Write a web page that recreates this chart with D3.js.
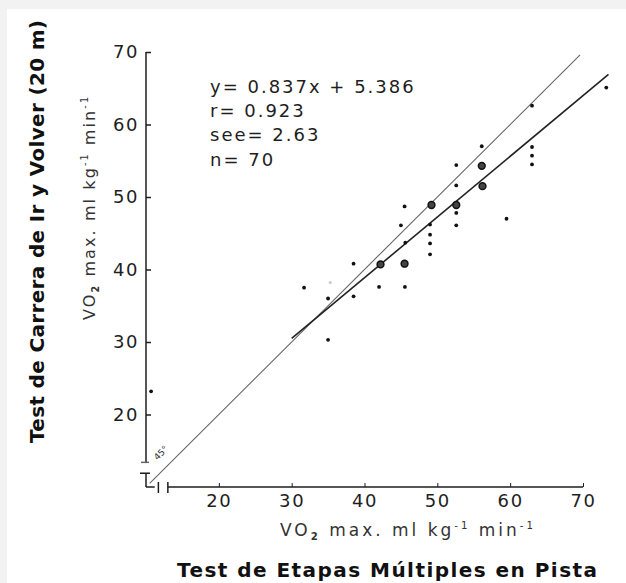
<!DOCTYPE html>
<html>
<head>
<meta charset="utf-8">
<script src="https://cdn.jsdelivr.net/npm/d3@7"></script>
<style>
  body { margin: 0; background: #f2f2f2; }
  svg { display: block; }
</style>
</head>
<body>
<svg id="chart" width="626" height="583"></svg>
<script>
// data (VO2 max, ml/kg/min)
const pointsX = [10.7, 31.7, 35.0, 35.0, 38.5, 38.5, 42.0, 45.5, 45.0, 45.6, 45.55, 49.0, 49.0, 49.0, 49.0,
  52.6, 52.6, 52.6, 52.6, 56.1, 59.5, 63.0, 63.0, 63.0, 63.0, 73.2];
const pointsY = [23.2, 37.5, 36.0, 30.3, 40.8, 36.3, 37.6, 48.7, 46.1, 43.7, 37.6, 46.2, 44.8, 43.6, 42.1,
  54.4, 51.6, 47.8, 46.1, 57.0, 47.0, 62.6, 56.9, 55.7, 54.5, 65.1];
// overlapping observations, drawn as larger rings
const bigX = [42.2, 45.5, 49.2, 52.6, 56.1, 56.2];
const bigY = [40.7, 40.8, 48.9, 48.9, 54.3, 51.5];
const fadedX = [35.3];
const fadedY = [38.2];

const xTicks = [20, 30, 40, 50, 60, 70];
const yTicks = [20, 30, 40, 50, 60, 70];
const slope = 0.837, intercept = 5.386;
const regRange = [30, 73.5];
const identityRange = [10.5, 69.6];
const statsLines = ['y= 0.837x + 5.386', 'r= 0.923', 'see= 2.63', 'n= 70'];

const width = 626, height = 583;
const svg = d3.select('#chart');

svg.append('rect').attr('x', 7).attr('y', 9)
  .attr('width', width - 7).attr('height', height - 9).attr('fill', '#fff');

const x = d3.scaleLinear().domain([10, 70]).range([146, 583]);
const y = d3.scaleLinear().domain([10, 70]).range([487, 52]);

const ink = '#1e1e1e';
const tickFont = { family: 'DejaVu Sans', size: 18, spacing: 1.6 };

// x axis (ticks point up, axis broken near the origin)
const gx = svg.append('g').attr('transform', `translate(0,${y(10)})`)
  .call(d3.axisBottom(x).tickValues(xTicks).tickSizeInner(-4).tickSizeOuter(0).tickPadding(7));
gx.select('.domain').remove();
gx.selectAll('line').attr('stroke', ink);
gx.selectAll('text')
  .attr('font-family', tickFont.family).attr('font-size', tickFont.size)
  .attr('letter-spacing', tickFont.spacing).attr('fill', ink);

svg.append('line')
  .attr('x1', x(13)).attr('x2', x(70)).attr('y1', y(10)).attr('y2', y(10))
  .attr('stroke', ink).attr('stroke-width', 1.5);
[x(11.7), x(13)].forEach(bx => {
  svg.append('line').attr('x1', bx).attr('x2', bx)
    .attr('y1', y(10) - 5).attr('y2', y(10) + 6)
    .attr('stroke', ink).attr('stroke-width', 1.5);
});

// y axis (ticks point right)
const gy = svg.append('g').attr('transform', `translate(${x(10)},0)`)
  .call(d3.axisLeft(y).tickValues(yTicks).tickSizeInner(-5).tickSizeOuter(0).tickPadding(7));
gy.select('.domain').remove();
gy.selectAll('line').attr('stroke', ink).attr('stroke-width', 1.5);
gy.selectAll('text')
  .attr('font-family', tickFont.family).attr('font-size', tickFont.size)
  .attr('letter-spacing', tickFont.spacing).attr('fill', ink);

svg.append('line')
  .attr('x1', x(10)).attr('x2', x(10)).attr('y1', y(70)).attr('y2', y(13.4))
  .attr('stroke', ink).attr('stroke-width', 1.5);
svg.append('line')
  .attr('x1', x(10) - 5).attr('x2', x(10) + 3).attr('y1', y(13.4)).attr('y2', y(13.4))
  .attr('stroke', '#666').attr('stroke-width', 1.5);
// the little "T" stub of the broken axis
svg.append('line')
  .attr('x1', x(10) - 6).attr('x2', x(10) + 4).attr('y1', y(11.9)).attr('y2', y(11.9))
  .attr('stroke', ink).attr('stroke-width', 1.5);
svg.append('line')
  .attr('x1', x(10)).attr('x2', x(10)).attr('y1', y(11.9)).attr('y2', y(10))
  .attr('stroke', ink).attr('stroke-width', 1.5);
svg.append('line')
  .attr('x1', x(10)).attr('x2', x(11.2)).attr('y1', y(10)).attr('y2', y(10))
  .attr('stroke', ink).attr('stroke-width', 1.5);

// 45 degree identity line
svg.append('line')
  .attr('x1', x(identityRange[0])).attr('y1', y(identityRange[0]))
  .attr('x2', x(identityRange[1])).attr('y2', y(identityRange[1]))
  .attr('stroke', '#666').attr('stroke-width', 1.1);

svg.append('text')
  .attr('transform', `translate(${x(13.3) - 7},${y(13.3) - 8}) rotate(-45)`)
  .attr('text-anchor', 'middle')
  .attr('font-family', 'DejaVu Sans').attr('font-size', 9).attr('fill', '#333')
  .text('45°');

// regression line
svg.append('line')
  .attr('x1', x(regRange[0])).attr('y1', y(slope * regRange[0] + intercept))
  .attr('x2', x(regRange[1])).attr('y2', y(slope * regRange[1] + intercept))
  .attr('stroke', '#222').attr('stroke-width', 1.6);

// points
svg.append('g').selectAll('circle')
  .data(d3.zip(pointsX, pointsY))
  .enter().append('circle')
  .attr('cx', d => x(d[0])).attr('cy', d => y(d[1]))
  .attr('r', 1.9).attr('fill', '#111');

svg.append('g').selectAll('circle')
  .data(d3.zip(bigX, bigY))
  .enter().append('circle')
  .attr('cx', d => x(d[0])).attr('cy', d => y(d[1]))
  .attr('r', 3.4).attr('fill', '#444').attr('stroke', '#111').attr('stroke-width', 1.5);

svg.append('g').selectAll('circle')
  .data(d3.zip(fadedX, fadedY))
  .enter().append('circle')
  .attr('cx', d => x(d[0])).attr('cy', d => y(d[1]))
  .attr('r', 1.6).attr('fill', '#ccc');

// regression statistics
const stats = svg.append('text')
  .attr('font-family', tickFont.family).attr('font-size', tickFont.size)
  .attr('letter-spacing', 2.0).attr('fill', ink);
statsLines.forEach((t, i) => {
  stats.append('tspan').attr('x', 210).attr('y', 93 + i * 24.2).text(t);
});

// axis unit labels
const unitLabel = (g, size) => {
  g.attr('font-family', 'DejaVu Sans').attr('font-size', size).attr('fill', '#333');
  g.append('tspan').text('VO');
  g.append('tspan').attr('font-size', size * 0.6).attr('font-weight', 'bold').attr('dy', 4).text('2');
  g.append('tspan').attr('dy', -4).text(' max. ml kg');
  g.append('tspan').attr('font-size', size * 0.6).attr('dy', -7).text('-1');
  g.append('tspan').attr('dy', 7).text(' min');
  g.append('tspan').attr('font-size', size * 0.6).attr('dy', -7).text('-1');
};

unitLabel(svg.append('text')
  .attr('x', 280).attr('y', 536)
  .attr('textLength', 253).attr('lengthAdjust', 'spacing'), 17);

unitLabel(svg.append('text')
  .attr('transform', 'translate(95,320) rotate(-90)')
  .attr('textLength', 223).attr('lengthAdjust', 'spacing'), 16);

// titles
svg.append('text')
  .attr('x', 177).attr('y', 577)
  .attr('textLength', 420).attr('lengthAdjust', 'spacing')
  .attr('font-family', 'DejaVu Sans').attr('font-weight', 'bold')
  .attr('font-size', 20).attr('fill', '#111')
  .text('Test de Etapas Múltiples en Pista');

svg.append('text')
  .attr('transform', 'translate(44,443) rotate(-90)')
  .attr('textLength', 423).attr('lengthAdjust', 'spacing')
  .attr('font-family', 'DejaVu Sans').attr('font-weight', 'bold')
  .attr('font-size', 20).attr('fill', '#111')
  .text('Test de Carrera de Ir y Volver (20 m)');
</script>
</body>
</html>
